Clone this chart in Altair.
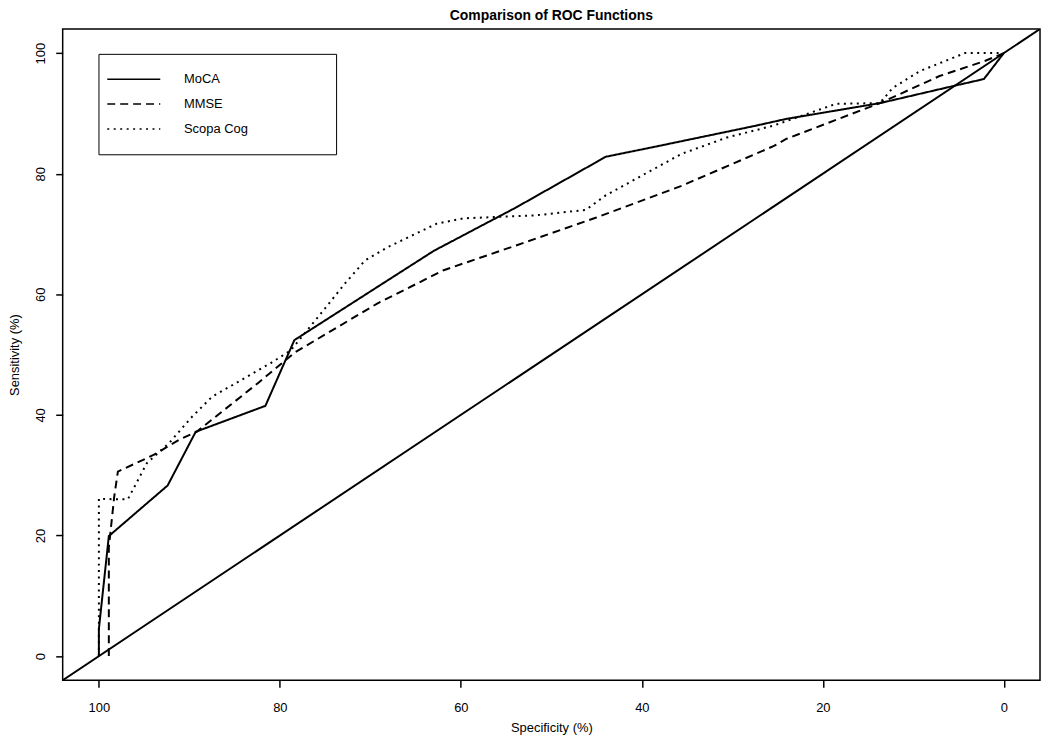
import altair as alt
import pandas as pd

# ---- data ----
moca_spec = [100, 100, 98.9, 92.4, 89.3, 81.6, 78.4, 63.0, 53.9, 44.0, 37.5, 27.6, 24.0, 13.7, 5.7, 2.2, 0]
moca_sens = [0, 4.5, 19.9, 28.3, 37.2, 41.5, 52.4, 67.2, 74.4, 82.8, 84.8, 87.9, 89.1, 91.7, 94.5, 95.7, 100]

mmse_spec = [98.9, 98.9, 98.3, 97.9, 93.9, 91.1, 89.2, 82.4, 78.3, 69.2, 61.9, 53.9, 45.1, 35.6, 25.4, 24.0, 13.7, 7.1, 2.1, 0]
mmse_sens = [0, 18.0, 26.5, 30.6, 33.4, 35.9, 37.2, 45.3, 50.4, 58.5, 64.0, 68.1, 72.7, 78.0, 84.6, 85.8, 91.7, 96.2, 98.7, 100]

scopa_spec = [100, 100, 98.2, 96.8, 94.7, 92.2, 89.7, 87.5, 81.0, 78.8, 75.8, 72.8, 70.6, 68.1, 62.7, 59.7,
              51.7, 46.2, 44.0, 35.6, 30.6, 25.4, 18.5, 13.7, 12.3, 9.3, 4.3, 0]
scopa_sens = [0, 26.1, 26.0, 26.0, 32.0, 35.4, 39.7, 43.0, 48.6, 50.7, 56.2, 61.8, 65.6, 67.8, 71.7, 72.6,
              73.1, 74.0, 76.4, 83.3, 86.0, 88.0, 91.6, 91.7, 94.2, 97.0, 100, 100]

tests = ["MoCA", "MMSE", "Scopa Cog"]
x_domain = [-4, 104]
y_domain = [-4, 104]
tick_values = [0, 20, 40, 60, 80, 100]

# chance diagonal: sensitivity = 100 - specificity, across the whole plotting region
diag_spec = [104, -4]
diag_sens = [100 - s for s in diag_spec]

rows = []
for name, xs, ys in [("MoCA", moca_spec, moca_sens), ("MMSE", mmse_spec, mmse_sens),
                     ("Scopa Cog", scopa_spec, scopa_sens)]:
    for i, (a, b) in enumerate(zip(xs, ys)):
        rows.append({"spec": a, "sens": b, "test": name, "idx": i})
curves = pd.DataFrame(rows)
diag = pd.DataFrame({"spec": diag_spec, "sens": diag_sens})

FONT = "Liberation Sans"
BLANK_PAD = "\u2800" * 7   # invisible padding that widens the legend box

x_enc = alt.X("spec:Q", scale=alt.Scale(domain=x_domain, reverse=True, nice=False, zero=False),
              axis=alt.Axis(values=tick_values, title="Specificity (%)", titleY=48,
                            titleBaseline="middle", titleFontWeight="normal"))
y_enc = alt.Y("sens:Q", scale=alt.Scale(domain=y_domain, nice=False, zero=False),
              axis=alt.Axis(values=tick_values, title="Sensitivity (%)", labelAngle=270,
                            labelAlign="center", labelBaseline="bottom", labelPadding=8,
                            titleX=-48, titleBaseline="middle", titleFontWeight="normal"))

diag_layer = alt.Chart(diag).mark_line(color="black", strokeWidth=2, clip=True).encode(
    x=x_enc, y=y_enc
)

curve_layer = alt.Chart(curves).mark_line(color="black", strokeWidth=2, clip=True).encode(
    x=x_enc,
    y=y_enc,
    order=alt.Order("idx:Q"),
    strokeDash=alt.StrokeDash(
        "test:N",
        scale=alt.Scale(domain=tests, range=[[1, 0], [8, 5], [2, 4.5]]),
        legend=alt.Legend(
            title=None, orient="none", legendX=36, legendY=25,
            symbolType="M-4.1,0H4.1", symbolSize=169, symbolStrokeWidth=1.5,
            symbolStrokeColor="black", symbolOffset=10,
            labelFont=FONT, labelFontSize=13,
            labelColor="black", labelOffset=43, rowPadding=10, padding=18,
            strokeColor="black", fillColor="white", labelLimit=400,
            labelExpr="datum.label + '" + BLANK_PAD + "'",
        ),
    ),
)

chart = (
    alt.layer(diag_layer, curve_layer)
    .properties(
        width=983, height=655,
        title=alt.TitleParams("Comparison of ROC Functions", font=FONT, fontSize=14,
                              fontWeight="bold", color="black", anchor="middle",
                              frame="group", baseline="bottom", offset=6, dy=14),
        autosize=alt.AutoSizeParams(type="none"),
        padding={"left": 55, "top": 19, "right": 2, "bottom": 56},
    )
    .configure_view(stroke="black", strokeWidth=1.5)
    .configure_axis(domain=False, grid=False, tickColor="black", tickWidth=1.5, tickSize=7,
                    labelFont=FONT, labelFontSize=13, labelColor="black",
                    titleFont=FONT, titleFontSize=13, titleColor="black")
    .configure_axisX(labelPadding=14)
)

chart.save("out.html", embed_options={"renderer": "svg", "actions": False})
